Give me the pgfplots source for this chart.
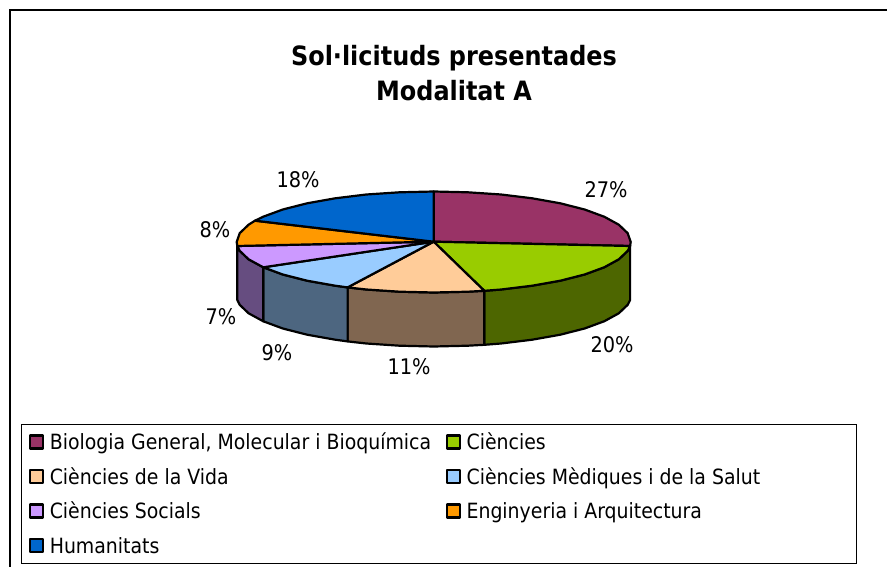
\documentclass[border=0pt]{standalone}
\usepackage{fontspec}
\setmainfont{DejaVu Sans Condensed}
\usepackage{pgfplots}
\pgfplotsset{compat=1.18}

\definecolor{cMaroon}{HTML}{993366}
\definecolor{cGreen}{HTML}{99CC00}
\definecolor{cPeach}{HTML}{FFCC99}
\definecolor{cSky}{HTML}{99CCFF}
\definecolor{cLilac}{HTML}{CC99FF}
\definecolor{cOrange}{HTML}{FF9900}
\definecolor{cBlue}{HTML}{0066CC}
\definecolor{sGreen}{HTML}{4D6600}
\definecolor{sBrown}{HTML}{806650}
\definecolor{sSlate}{HTML}{4D6680}
\definecolor{sPurple}{HTML}{664D80}

\begin{document}
\begin{tikzpicture}
\path[use as bounding box] (0,0) rectangle (887pt,567pt);
\begin{axis}[
  at={(0,0)}, anchor=south west,
  scale only axis, width=887pt, height=567pt,
  xmin=0, xmax=887, ymin=0, ymax=567, y dir=reverse,
  hide axis,
  pie/.style={draw=black, line width=2.2pt, line join=round},
  legend columns=2, legend cell align=left,
  legend image code/.code={\draw[#1,line width=2.4pt] (0pt,-6.5pt) rectangle (13pt,6.5pt);},
  legend style={at={(axis cs:20.5,423.5)}, anchor=north west, draw=black, line width=0.8pt,
    font=\fontsize{21}{24}\selectfont, inner xsep=8pt, inner ysep=7pt,
    nodes={inner sep=0pt, text height=19pt, text depth=3pt},
    /tikz/row sep=12.5pt,
    /tikz/every even column/.append style={column sep=14.5pt},
    /tikz/every odd column/.append style={column sep=5.5pt}},
]
% outer frame, open to the right and the bottom of the image
\addplot[black, line width=1.5pt, forget plot] coordinates {(10,567) (10,10) (887,10)};

% sides
\addplot[pie, fill=sGreen, forget plot] coordinates {(630.1,246) (627.7,250.8) (618.8,259.3) (604.3,267.25) (584.6,274.5) (560.3,280.7) (532.2,285.7) (501.1,289.5) (484.3,290.8) (484.3,344.8) (501.1,343.5) (532.2,339.7) (560.3,334.7) (584.6,328.5) (604.3,321.25) (618.8,313.3) (627.7,304.8) (630.1,300)} --cycle;
\addplot[pie, fill=sBrown, forget plot] coordinates {(484.3,290.8) (467.9,291.7) (433.7,292.5) (399.5,291.7) (366.3,289.5) (347.6,287.4) (347.6,341.4) (366.3,343.5) (399.5,345.7) (433.7,346.5) (467.9,345.7) (484.3,344.8)} --cycle;
\addplot[pie, fill=sSlate, forget plot] coordinates {(347.6,287.4) (335.2,285.7) (307.1,280.7) (282.8,274.5) (263.3,267.3) (263.3,321.3) (282.8,328.5) (307.1,334.7) (335.2,339.7) (347.6,341.4)} --cycle;
\addplot[pie, fill=sPurple, forget plot] coordinates {(263.3,267.3) (248.6,259.3) (239.7,250.8) (237.3,246) (237.3,300) (239.7,304.8) (248.6,313.3) (263.3,321.3)} --cycle;

% top faces
\addplot[pie, fill=cMaroon] coordinates {(433.7,241.7) (433.7,191.5) (467.9,192.3) (501.1,194.5) (532.2,198.3) (560.3,203.3) (584.6,209.5) (604.3,216.75) (618.8,224.7) (627.7,233.2) (630.7,242) (630.1,246)} --cycle;
\addlegendentry{Biologia General, Molecular i Bioquímica}
\addplot[pie, fill=cGreen] coordinates {(433.7,241.7) (630.1,246) (627.7,250.8) (618.8,259.3) (604.3,267.25) (584.6,274.5) (560.3,280.7) (532.2,285.7) (501.1,289.5) (484.3,290.8)} --cycle;
\addlegendentry{\makebox[381.5pt][l]{Ciències}}
\addplot[pie, fill=cPeach] coordinates {(433.7,241.7) (484.3,290.8) (467.9,291.7) (433.7,292.5) (399.5,291.7) (366.3,289.5) (347.6,287.4)} --cycle;
\addlegendentry{Ciències de la Vida}
\addplot[pie, fill=cSky] coordinates {(433.7,241.7) (347.6,287.4) (335.2,285.7) (307.1,280.7) (282.8,274.5) (263.3,267.3)} --cycle;
\addlegendentry{\makebox[381.5pt][l]{Ciències Mèdiques i de la Salut}}
\addplot[pie, fill=cLilac] coordinates {(433.7,241.7) (263.3,267.3) (248.6,259.3) (239.7,250.8) (237.3,246)} --cycle;
\addlegendentry{Ciències Socials}
\addplot[pie, fill=cOrange] coordinates {(433.7,241.7) (237.3,246) (236.7,242) (239.7,233.2) (248.6,224.7) (255,220.7)} --cycle;
\addlegendentry{\makebox[381.5pt][l]{Enginyeria i Arquitectura}}
\addplot[pie, fill=cBlue] coordinates {(433.7,241.7) (255,220.7) (263.1,216.75) (282.8,209.5) (307.1,203.3) (335.2,198.3) (366.3,194.5) (399.5,192.3) (433.7,191.5)} --cycle;
\addlegendentry{Humanitats}

% title
\node[align=center, font=\fontsize{26.6}{35}\selectfont\bfseries] at (axis cs:454,73) {Sol·licituds presentades\\Modalitat A};

% slice labels
\begin{scope}[every node/.style={font=\fontsize{21.5}{24}\selectfont}]
\node at (axis cs:606,190) {27\%};
\node at (axis cs:612,345) {20\%};
\node at (axis cs:409,367) {11\%};
\node at (axis cs:277,353) {9\%};
\node at (axis cs:221,317) {7\%};
\node at (axis cs:215,230) {8\%};
\node at (axis cs:298,180) {18\%};
\end{scope}
\end{axis}
\end{tikzpicture}
\end{document}
